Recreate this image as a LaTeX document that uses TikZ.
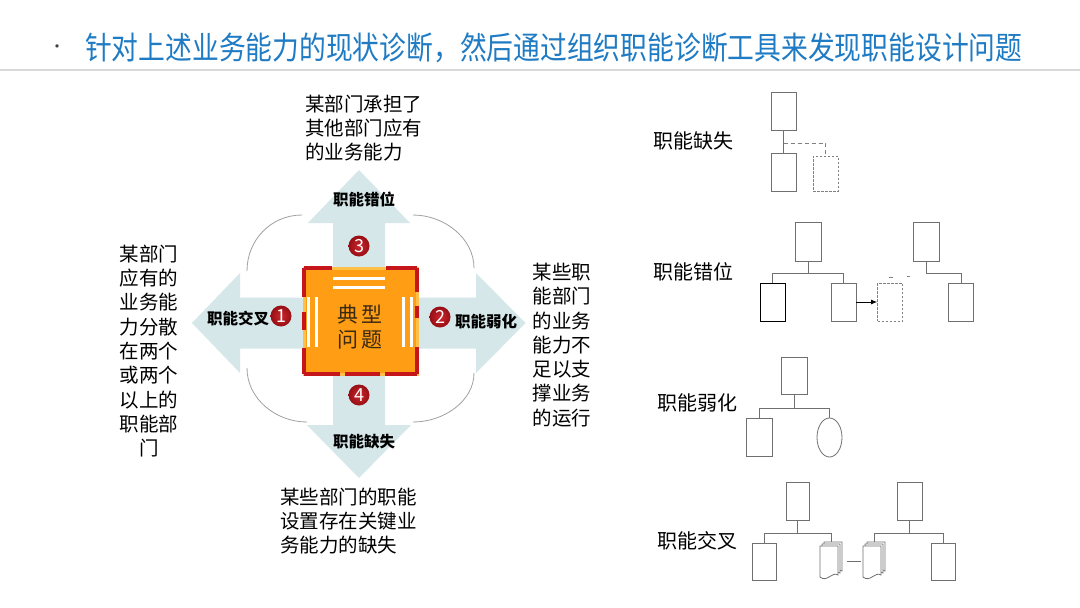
\documentclass[tikz,border=0pt]{standalone}
\usepackage{fontspec}
\setmainfont{Noto Sans CJK SC}
\newfontfamily\titlefont[FakeStretch=0.85]{Noto Sans CJK SC}
\usetikzlibrary{arrows.meta,shapes.geometric,calc}
\definecolor{titleblue}{HTML}{1F7BC3}
\definecolor{arrowfill}{HTML}{D5E7E9}
\definecolor{sqorange}{HTML}{FF9E15}
\definecolor{sqedge}{HTML}{FFC04A}
\definecolor{sqred}{HTML}{C5161C}
\definecolor{ballred}{HTML}{C8141B}
\definecolor{arcgray}{HTML}{A0A0A0}
\definecolor{boxgray}{HTML}{707070}
\definecolor{sepgray}{HTML}{D9D9D9}
\definecolor{centertext}{HTML}{3A2A12}
\begin{document}
\begin{tikzpicture}[x=1pt,y=-1pt,
  orgbox/.style={draw=boxgray, fill=white, line width=0.8pt, inner sep=0pt, minimum width=25pt, minimum height=38pt},
  dashbox/.style={orgbox, draw=gray, dash pattern=on 2.5pt off 1.5pt},
  orgline/.style={draw=boxgray, line width=0.8pt},
  numball/.style={circle, inner sep=0pt, minimum size=21pt, shading=radial, inner color=ballred!92!white, outer color=ballred!75!black, text=white, font=\fontsize{18}{18}\selectfont},
  lbl/.style={inner sep=0pt, font=\fontsize{15.5}{18}\selectfont\bfseries},
  body/.style={inner sep=0pt, font=\fontsize{19.5}{24.3}\selectfont},
  side/.style={inner sep=0pt, font=\fontsize{20}{24}\selectfont},
  redseg/.style={draw=sqred, line width=3.2pt},
  whiteline/.style={draw=white, line width=3pt},
  docstack/.pic={
    \foreach \o in {4,2,0}{
      \draw[orgline, fill=white] (\o,4-\o) -- (\o+18,4-\o) -- (\o+18,33-\o) .. controls (\o+12,29-\o) and (\o+7,41-\o) .. (\o,35-\o) -- cycle;
    }
    \node[inner sep=0pt, minimum width=22pt, minimum height=38pt, anchor=north west] (-box) at (0,0) {};
  }
]
\useasboundingbox (0,0) rectangle (1080,608);
\fill[white] (0,0) rectangle (1080,608);

% title
\node[inner sep=0pt, font=\fontsize{16}{16}\selectfont, text=darkgray] (bullet) at (57,49) {·};
\node[anchor=west, inner sep=0pt, text=titleblue, font=\titlefont\fontsize{31.5}{34}\selectfont] (title) at (85,48) {针对上述业务能力的现状诊断，然后通过组织职能诊断工具来发现职能设计问题};
\draw[sepgray, line width=1.5pt] (0,70) -- (1080,70);

% gray arcs
\draw[arcgray, line width=0.8pt] (247,271) .. controls (247,240) and (271,215) .. (302,215);
\draw[arcgray, line width=0.8pt] (413,215) .. controls (444,215) and (474,238) .. (474,268);
\draw[arcgray, line width=0.8pt] (474,373) .. controls (474,401) and (444,422) .. (413,422);
\draw[arcgray, line width=0.8pt] (307,422) .. controls (276,422) and (247,399) .. (247,368);

% cross of arrows
\fill[arrowfill] (359,170) -- (410,223) -- (385,223) -- (385,297.5) -- (476,297.5) -- (476,273)
  -- (525.5,323) -- (476,373) -- (476,348.5) -- (385,348.5) -- (385,425) -- (411,425)
  -- (359,478) -- (307,425) -- (333,425) -- (333,348.5) -- (240,348.5) -- (240,373)
  -- (192,323) -- (240,273) -- (240,297.5) -- (333,297.5) -- (333,223) -- (308,223) -- cycle;

% central square
\node[minimum width=113pt, minimum height=106pt, inner sep=0pt, fill=sqorange, draw=sqedge, line width=3pt] (sq) at (360.5,321) {};
\draw[redseg] (304,268) -- (332,268) (386,268) -- (417,268);
\draw[redseg] (304,268) -- (304,297) (304,312) -- (304,330) (304,348) -- (304,374);
\draw[redseg] (417,268) -- (417,292) (417,306) -- (417,318) (417,347) -- (417,374);
\draw[redseg] (304,374) -- (340,374) (345,374) -- (380,374) (385,374) -- (417,374);
\draw[whiteline] (333,278.5) -- (385,278.5) (333,287) -- (385,287);
\draw[whiteline] (308.5,297) -- (308.5,347) (316.5,297) -- (316.5,347);
\draw[whiteline] (403,297) -- (403,347) (411,297) -- (411,347);
\node[inner sep=0pt, align=center, text=centertext, font=\fontsize{21}{25}\selectfont] (sqt) at (360,327) {典\hspace{4pt}型\\问\hspace{4pt}题};

% numbers
\node[numball] (n1) at (281,316) {1};
\node[numball] (n2) at (440,317) {2};
\node[numball] (n3) at (359,246) {3};
\node[numball] (n4) at (359,395) {4};

% arrow labels
\node[lbl] (lx) at (238,318) {职能交叉};
\node[lbl] (lr) at (486,322) {职能弱化};
\node[lbl] (lc) at (364,199) {职能错位};
\node[lbl] (lq) at (364,442) {职能缺失};

% descriptions
\node[body, align=left, anchor=west] (ttop) at (305,128) {某部门承担了\\其他部门应有\\的业务能力};
\node[body, align=center] (tleft) at (149,351) {某部门\\应有的\\业务能\\力分散\\在两个\\或两个\\以上的\\职能部\\门};
\node[body, align=left] (tright) at (562,345) {某些职\\能部门\\的业务\\能力不\\足以支\\撑业务\\的运行};
\node[body, align=left, anchor=west] (tbot) at (280,521) {某些部门的职能\\设置存在关键业\\务能力的缺失};

% right side labels
\node[side] (s1) at (693,141) {职能缺失};
\node[side] (s2) at (693,272) {职能错位};
\node[side] (s3) at (697,403) {职能弱化};
\node[side] (s4) at (697,541) {职能交叉};

% diagram: 职能缺失
\node[orgbox] (t1) at (783.5,111) {};
\node[orgbox] (b1) at (783.5,172) {};
\node[dashbox, minimum height=35pt] (d1) at (825.5,173.5) {};
\coordinate (j1) at (783.5,143);
\draw[orgline] (t1.south) -- (b1.north);
\draw[draw=gray, line width=0.8pt, dash pattern=on 4pt off 3pt] (j1) -| (d1.north);

% diagram: 职能错位
\node[orgbox, minimum width=26pt, minimum height=39pt] (t2) at (808,241.5) {};
\node[orgbox, draw=black] (l2) at (772.5,302) {};
\node[orgbox] (r2) at (843.5,302) {};
\node[dashbox] (d2) at (890,302) {};
\node[orgbox, minimum width=26pt, minimum height=39pt] (t3) at (926,241.5) {};
\node[orgbox] (c3) at (961,302) {};
\draw[orgline] (t2.south) -- ++(0,11.5) -| (l2.north);
\draw[orgline] (t2.south) -- ++(0,11.5) -| (r2.north);
\draw[black, line width=0.8pt, -{Latex[length=6pt,width=5pt]}] (r2.east) -- (d2.west);
\draw[orgline] (t3.south) -- ++(0,12) -| (c3.north);
\draw[gray, line width=0.8pt] (889,277) -- (893,277) (906.5,276.5) -- (909.5,276.5);

% diagram: 职能弱化
\node[orgbox, minimum width=26pt, minimum height=37pt] (t4) at (794,375.5) {};
\node[orgbox, minimum width=26pt] (l4) at (759,437) {};
\node[orgbox, ellipse, minimum width=25pt, minimum height=39pt] (e4) at (829.5,437.5) {};
\draw[orgline] (t4.south) -- ++(0,14) -| (l4.north);
\draw[orgline] (t4.south) -- ++(0,14) -| (e4.north);

% diagram: 职能交叉
\node[orgbox, minimum width=23pt] (t5) at (797.5,501) {};
\node[orgbox, minimum width=24pt, minimum height=37pt] (l5) at (764,561.5) {};
\pic (ds1) at (820,542) {docstack};
\node[orgbox] (t6) at (909.5,501) {};
\pic (ds2) at (863,542) {docstack};
\node[orgbox, minimum width=24pt, minimum height=37pt] (r6) at (943,561.5) {};
\draw[orgline] (t5.south) -- ++(0,13) -| (l5.north);
\draw[orgline] (t5.south) -- ++(0,13) -| (ds1-box.north);
\draw[orgline] (t6.south) -- ++(0,13) -| (ds2-box.north);
\draw[orgline] (t6.south) -- ++(0,13) -| (r6.north);
\draw[orgline, shorten <=5pt, shorten >=2pt] (ds1-box.east) -- (ds2-box.west);
\end{tikzpicture}
\end{document}
